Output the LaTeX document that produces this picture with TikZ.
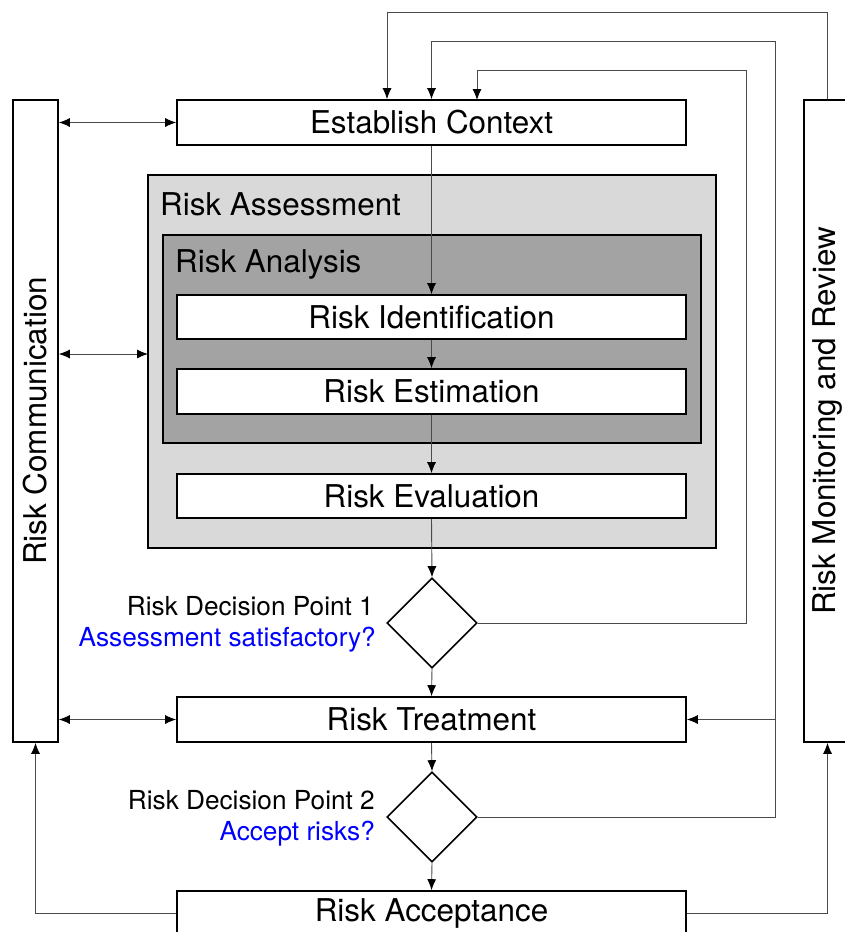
\documentclass[tikz,border=0pt]{standalone}
\usepackage{fontspec}
\setmainfont{TeX Gyre Heros}
\usetikzlibrary{shapes.geometric,arrows.meta}
\definecolor{assessgray}{HTML}{D9D9D9}
\definecolor{analysisgray}{HTML}{A3A3A3}
\definecolor{conngray}{HTML}{4A4A4A}
\definecolor{qblue}{HTML}{0000FF}
\begin{document}
\begin{tikzpicture}[x=1pt,y=-1pt,
  box/.style={draw=black, line width=1.6pt, fill=white, rectangle, inner sep=0pt,
    font=\fontsize{31.4}{36}\selectfont},
  sidebox/.style={box, minimum width=45pt, minimum height=642pt},
  flowbox/.style={box, minimum width=509pt, minimum height=45pt},
  decision/.style={draw=black, line width=1.6pt, fill=white, diamond, aspect=1,
    minimum width=90pt, minimum height=90pt, inner sep=0pt},
  conn/.style={draw=conngray, line width=0.9pt},
  arr/.style={conn, -{Latex[length=11pt,width=9pt,black]}},
  biarr/.style={conn, {Latex[length=11pt,width=9pt,black]}-{Latex[length=11pt,width=9pt,black]}},
  grouplabel/.style={anchor=base west, inner sep=0pt, font=\fontsize{31.4}{36}\selectfont},
  dlabel/.style={anchor=base east, inner sep=0pt, font=\fontsize{26.2}{30}\selectfont},
]
\useasboundingbox (0,0) rectangle (844,932);

% grouping areas
\node[draw=black, line width=1.6pt, fill=assessgray, rectangle, inner sep=0pt,
  minimum width=568pt, minimum height=373pt] (assess) at (432,361.5) {};
\node[draw=black, line width=1.6pt, fill=analysisgray, rectangle, inner sep=0pt,
  minimum width=538pt, minimum height=208pt] (analysis) at (432,339) {};
\node[grouplabel] (assesslbl) at (160,215) {Risk Assessment};
\node[grouplabel] (analysislbl) at (175,272) {Risk Analysis};

% side boxes
\node[sidebox, label={[rotate=90, font=\fontsize{31.4}{36}\selectfont]center:Risk Communication}] (comm) at (35.5,421) {};
\node[sidebox, minimum width=47pt, label={[rotate=90, font=\fontsize{31.4}{36}\selectfont]center:Risk Monitoring and Review}] (mon) at (827.5,421) {};

% process boxes
\node[flowbox] (est) at (431.5,122.5) {Establish Context};
\node[flowbox, minimum height=44pt] (ident) at (431.5,317) {Risk Identification};
\node[flowbox] (estim) at (431.5,391.5) {Risk Estimation};
\node[flowbox, minimum height=44pt] (evalu) at (431.5,496) {Risk Evaluation};
\node[decision] (d1) at (432,623) {};
\node[flowbox] (treat) at (431.5,719.5) {Risk Treatment};
\node[decision] (d2) at (432,817) {};
\node[flowbox] (accept) at (431.5,913.5) {Risk Acceptance};

% decision labels
\node[dlabel] (d1a) at (374,615) {Risk Decision Point 1};
\node[dlabel, text=qblue] (d1b) at (376,646.5) {Assessment satisfactory?};
\node[dlabel] (d2a) at (375,809) {Risk Decision Point 2};
\node[dlabel, text=qblue] (d2b) at (375,840) {Accept risks?};

% coordinates for loop-backs
\coordinate (top1) at (387,12);
\coordinate (r2) at (775,41);
\coordinate (r1) at (746,70);
\coordinate (in1) at (477,100);
\coordinate (assessin) at (148,354);

% main flow
\draw[arr] (est.south) -- (ident.north);
\draw[arr] (ident.south) -- (estim.north);
\draw[arr] (estim.south) -- (evalu.north);
\draw[arr] (evalu.south) -- (d1.north);
\draw[arr] (d1.south) -- (treat.north);
\draw[arr] (treat.south) -- (d2.north);
\draw[arr] (d2.south) -- (accept.north);

% communication
\draw[biarr] (comm.east |- est.west) -- (est.west);
\draw[biarr] (comm.east |- assessin) -- (assessin);
\draw[biarr] (comm.east |- treat.west) -- (treat.west);
\draw[arr] (accept.west) -| (comm.south);

% monitoring
\draw[arr] (accept.east) -| (mon.south);
\draw[arr] (mon.north) |- (top1) -- (top1 |- est.north);

% decision loop-backs
\draw[arr] (d2.east) -| (r2) -| (est.north);
\draw[arr] (r2 |- treat.east) -- (treat.east);
\draw[arr] (d1.east) -| (r1) -| (in1);
\end{tikzpicture}
\end{document}
